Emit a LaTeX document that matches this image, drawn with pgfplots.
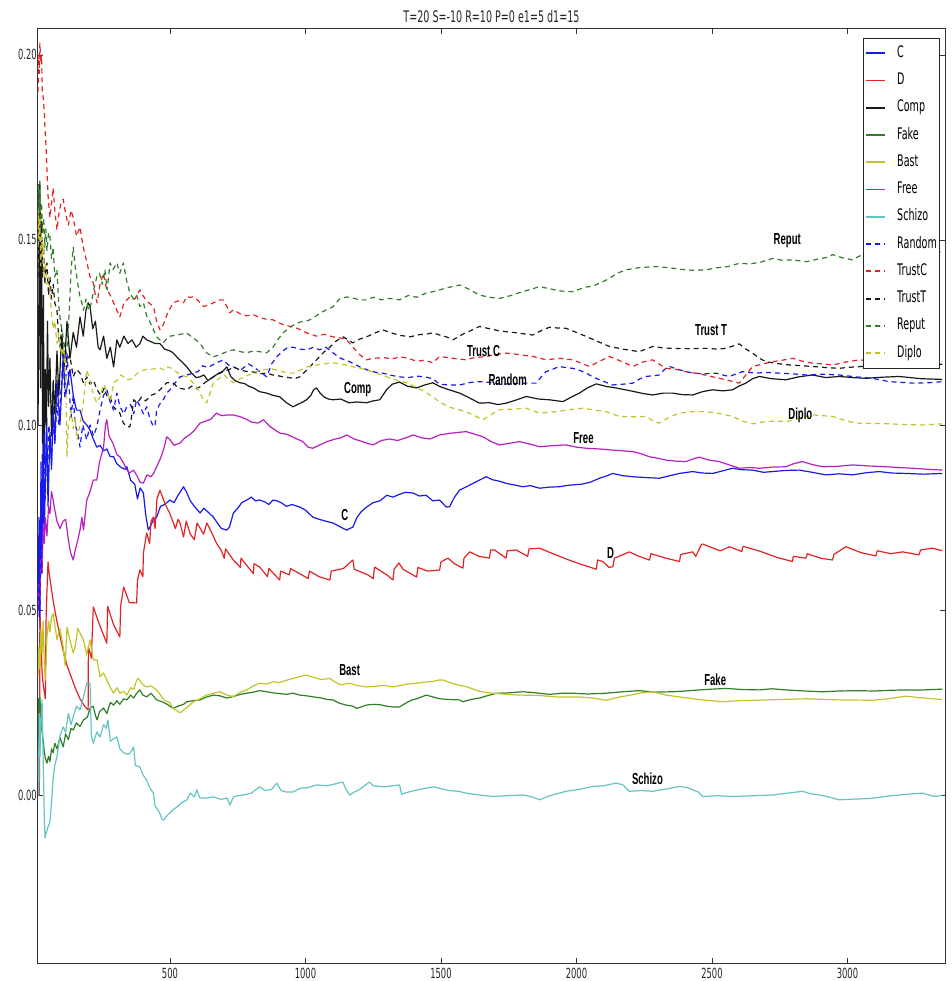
\documentclass[border=0pt]{standalone}
\usepackage{fontspec}
\setmainfont{DejaVu Sans}[FakeStretch=0.6]
\newfontfamily\lblfont{Liberation Sans}[FakeStretch=0.6]
\usepackage{pgfplots}
\pgfplotsset{compat=1.18}

\definecolor{cB}{RGB}{25,25,235}
\definecolor{cR}{RGB}{225,35,35}
\definecolor{cK}{RGB}{25,25,25}
\definecolor{cG}{RGB}{50,125,40}
\definecolor{cY}{RGB}{195,195,40}
\definecolor{cM}{RGB}{185,30,190}
\definecolor{cC}{RGB}{100,195,195}

\tikzset{dsh/.style={dash pattern=on 5bp off 4bp}}
\newcommand{\lbl}[3]{\node[font=\lblfont\bfseries\fontsize{16}{16}\selectfont, text=black] at (axis cs:#1,#2) {#3};}

\begin{document}
\begin{tikzpicture}
\begin{axis}[
  scale only axis,
  width=907bp, height=934bp,
  xmin=13, xmax=3360, ymin=-0.0454, ymax=0.207,
  xtick={500,1000,1500,2000,2500,3000},
  ytick={0,0.05,0.1,0.15,0.2},
  scaled ticks=false,
  /pgf/number format/assume math mode=true,
  /pgf/number format/1000 sep={},
  tick label style={font=\fontsize{14}{14}\selectfont, text=black!85},
  yticklabel style={inner xsep=1bp, /pgf/number format/fixed, /pgf/number format/fixed zerofill, /pgf/number format/precision=2},
  xticklabel style={inner ysep=5bp},
  tick align=inside,
  xtick pos=both, ytick pos=both,
  major tick length=5bp,
  tick style={black!80, line width=0.6bp},
  axis line style={black!80, line width=1bp},
  title={T=20 S=-10 R=10 P=0 e1=5 d1=15},
  every axis title/.style={at={(0.5,1)}, anchor=base, yshift=6.5bp, inner sep=0bp, font=\fontsize{16}{16}\selectfont, text=black!85},
  every axis plot/.append style={line width=1.2bp, line join=round},
  legend cell align=left,
  legend image code/.code={\draw[#1, line width=1.8bp] (0bp,0bp) -- (19bp,0bp);},
  legend style={at={(1,1)}, anchor=north east, xshift=-6bp, yshift=-9bp,
    draw=black!85, fill=white,
    font=\fontsize{16}{16}\selectfont,
    inner xsep=2bp, inner ysep=8bp,
    nodes={inner sep=0bp, text height=11bp, text depth=3bp},
    row sep=13.27bp, column sep=11bp},
]

% C
\addplot[cB] coordinates {
(13,0.052) (17,0.075) (20,0.045) (24,0.09) (28,0.06) (32,0.098) (36,0.07) (40,0.085) (45,0.102) (50,0.078) (57,0.098) (63,0.088) (69,0.105) (75,0.095) (83,0.112) (94,0.1) (106,0.118) (115,0.108) (131,0.115) (143,0.108) (155,0.104) (168,0.104) (180,0.101) (193,0.1) (205,0.0986) (218,0.096) (230,0.094) (242,0.0945) (255,0.093) (267,0.0935) (279,0.0915) (292,0.0914) (304,0.0895) (320,0.0885) (335,0.088) (341,0.0887) (355,0.085) (370,0.084) (380,0.08) (390,0.083) (402,0.0816) (410,0.076) (420,0.0716) (430,0.073) (440,0.0745) (451,0.0751) (465,0.078) (480,0.0785) (500,0.0797) (515,0.079) (530,0.081) (550,0.0833) (560,0.082) (575,0.0795) (590,0.078) (611,0.0762) (625,0.0775) (640,0.0765) (660,0.0751) (675,0.0735) (690,0.072) (710,0.0716) (720,0.0725) (734,0.0762) (750,0.0775) (765,0.079) (783,0.0797) (800,0.0805) (815,0.0795) (831,0.0797) (850,0.0792) (865,0.0785) (880,0.0797) (895,0.0795) (910,0.079) (930,0.078) (950,0.0785) (979,0.0778) (1000,0.077) (1027,0.0751) (1050,0.0745) (1075,0.074) (1101,0.0735) (1120,0.0728) (1140,0.072) (1152,0.0716) (1163,0.072) (1175,0.0724) (1190,0.075) (1205,0.0765) (1225,0.0778) (1250,0.079) (1275,0.0795) (1300,0.081) (1323,0.0805) (1345,0.0812) (1370,0.0818) (1397,0.0816) (1420,0.0808) (1445,0.081) (1470,0.0795) (1495,0.0797) (1520,0.0778) (1532,0.0779) (1550,0.0805) (1569,0.0824) (1594,0.0833) (1618,0.0842) (1642,0.0851) (1667,0.086) (1690,0.0852) (1716,0.0848) (1741,0.0842) (1770,0.0838) (1802,0.0833) (1830,0.0836) (1864,0.0829) (1900,0.0832) (1937,0.0833) (1960,0.0836) (1986,0.0838) (2020,0.084) (2050,0.0845) (2085,0.0856) (2110,0.0862) (2134,0.0869) (2170,0.0863) (2208,0.086) (2250,0.0858) (2306,0.0856) (2340,0.0862) (2380,0.0869) (2429,0.0874) (2465,0.087) (2503,0.0869) (2540,0.0876) (2576,0.0883) (2610,0.0879) (2650,0.0878) (2690,0.0872) (2724,0.0874) (2770,0.0877) (2822,0.0878) (2870,0.0872) (2920,0.0865) (2970,0.0868) (3019,0.0865) (3070,0.0871) (3117,0.0874) (3165,0.087) (3215,0.0869) (3280,0.0867) (3350,0.0869)
};
\addlegendentry{C}

% D
\addplot[cR] coordinates {
(13,0.0) (18,0.0) (20,0.048) (24,0.042) (28,0.033) (32,0.03) (36,0.028) (40,0.026) (43,0.048) (46,0.055) (50,0.063) (54,0.06) (60,0.057) (70,0.052) (80,0.048) (94,0.043) (106,0.039) (120,0.035) (135,0.032) (150,0.029) (168,0.026) (185,0.024) (198,0.023) (199,0.040) (210,0.037) (217,0.0508) (240,0.046) (267,0.041) (270,0.051) (292,0.046) (315,0.0427) (318,0.051) (329,0.0562) (350,0.052) (377,0.0519) (380,0.058) (389,0.0608) (400,0.059) (402,0.0654) (414,0.0708) (425,0.068) (430,0.074) (439,0.0751) (445,0.072) (452,0.08) (463,0.0824) (480,0.079) (500,0.076) (520,0.072) (530,0.0745) (537,0.0735) (550,0.0697) (560,0.074) (575,0.0705) (590,0.069) (600,0.0735) (624,0.0705) (636,0.0735) (650,0.0715) (672,0.068) (690,0.066) (700,0.064) (705,0.0665) (734,0.0635) (760,0.0615) (762,0.064) (808,0.0598) (810,0.0625) (831,0.0616) (860,0.059) (865,0.0612) (905,0.0581) (908,0.0605) (940,0.0595) (945,0.0612) (979,0.0598) (1010,0.0585) (1015,0.0605) (1050,0.059) (1090,0.0581) (1095,0.0605) (1140,0.0612) (1175,0.0635) (1180,0.061) (1230,0.0595) (1250,0.0585) (1255,0.0616) (1300,0.0595) (1323,0.0581) (1327,0.061) (1345,0.0627) (1360,0.061) (1410,0.0589) (1415,0.0615) (1450,0.0605) (1495,0.0608) (1500,0.063) (1526,0.064) (1550,0.0625) (1581,0.0613) (1585,0.064) (1606,0.0657) (1640,0.0645) (1679,0.064) (1683,0.0662) (1698,0.0662) (1740,0.064) (1745,0.066) (1778,0.0662) (1820,0.0645) (1825,0.0665) (1864,0.0667) (1920,0.065) (1986,0.0631) (2040,0.0618) (2073,0.061) (2078,0.0635) (2097,0.0631) (2120,0.0615) (2134,0.0617) (2140,0.064) (2195,0.0657) (2230,0.0645) (2269,0.0635) (2275,0.0652) (2330,0.064) (2380,0.0631) (2385,0.065) (2429,0.0657) (2440,0.0645) (2462,0.0678) (2466,0.0678) (2530,0.066) (2539,0.0662) (2564,0.0671) (2610,0.0658) (2615,0.0672) (2680,0.0658) (2740,0.0642) (2797,0.0631) (2800,0.0645) (2847,0.064) (2852,0.0652) (2900,0.064) (2945,0.0635) (2950,0.065) (2994,0.0671) (3050,0.0655) (3105,0.0646) (3110,0.066) (3160,0.0652) (3203,0.0657) (3264,0.0649) (3270,0.0662) (3313,0.0667) (3350,0.066)
};
\addlegendentry{D}

% Comp
\addplot[cK] coordinates {
(13,0.10) (16,0.13) (18,0.165) (20,0.14) (22,0.11) (25,0.155) (28,0.125) (30,0.095) (33,0.135) (36,0.09) (40,0.115) (44,0.1) (48,0.128) (52,0.105) (57,0.118) (63,0.097) (69,0.112) (75,0.103) (83,0.12) (90,0.108) (100,0.124) (110,0.115) (120,0.128) (131,0.118) (143,0.125) (155,0.121) (168,0.1292) (180,0.124) (190,0.131) (198,0.133) (205,0.132) (215,0.126) (225,0.128) (235,0.121) (242,0.1203) (255,0.124) (267,0.118) (280,0.121) (292,0.1157) (304,0.123) (315,0.121) (330,0.124) (345,0.122) (360,0.123) (375,0.121) (389,0.122) (400,0.124) (414,0.123) (430,0.1225) (445,0.122) (463,0.122) (480,0.1205) (500,0.12) (511,0.1195) (530,0.118) (545,0.117) (562,0.1157) (580,0.114) (596,0.1128) (611,0.113) (625,0.1135) (640,0.112) (660,0.113) (680,0.114) (695,0.1145) (710,0.1157) (725,0.113) (740,0.112) (758,0.1114) (775,0.1112) (790,0.1105) (808,0.11) (830,0.109) (857,0.1086) (880,0.108) (905,0.1076) (930,0.106) (954,0.1049) (970,0.1055) (990,0.1062) (1004,0.1068) (1020,0.108) (1030,0.1095) (1041,0.11) (1055,0.1085) (1070,0.1075) (1085,0.107) (1101,0.1068) (1130,0.107) (1160,0.106) (1190,0.1062) (1225,0.106) (1250,0.1065) (1274,0.1068) (1290,0.1085) (1299,0.1095) (1320,0.111) (1347,0.1116) (1375,0.1105) (1410,0.11) (1440,0.1108) (1470,0.1114) (1495,0.1104) (1530,0.1095) (1569,0.1086) (1600,0.1075) (1642,0.1059) (1680,0.106) (1710,0.1055) (1741,0.1059) (1780,0.1068) (1815,0.1077) (1860,0.107) (1900,0.1068) (1950,0.1063) (1980,0.1075) (2011,0.1086) (2040,0.11) (2073,0.1111) (2110,0.1104) (2146,0.11) (2180,0.1095) (2208,0.1091) (2245,0.1085) (2281,0.1081) (2320,0.1086) (2355,0.1086) (2390,0.1082) (2429,0.1081) (2465,0.109) (2503,0.1095) (2540,0.1092) (2576,0.1095) (2600,0.1105) (2625,0.1113) (2650,0.1125) (2675,0.1131) (2720,0.1125) (2773,0.1122) (2820,0.113) (2871,0.1135) (2920,0.1128) (2969,0.1131) (3020,0.1128) (3068,0.1126) (3130,0.1129) (3191,0.1131) (3270,0.1125) (3350,0.1123)
};
\addlegendentry{Comp}

% Fake
\addplot[cG] coordinates {
(13,0.012) (16,0.026) (20,0.0265) (24,0.02) (28,0.017) (32,0.0149) (36,0.012) (40,0.01) (46,0.0086) (52,0.0105) (57,0.009) (63,0.0125) (69,0.0114) (75,0.014) (83,0.0125) (94,0.0155) (106,0.013) (115,0.0165) (125,0.015) (135,0.018) (143,0.0176) (155,0.0195) (168,0.0185) (181,0.0203) (195,0.021) (205,0.0235) (217,0.024) (225,0.0215) (231,0.0203) (240,0.0225) (255,0.0235) (267,0.022) (280,0.025) (292,0.0243) (304,0.0255) (315,0.0245) (329,0.026) (341,0.0257) (355,0.027) (366,0.0262) (377,0.0275) (389,0.0284) (400,0.027) (414,0.0265) (430,0.0275) (451,0.0257) (470,0.0252) (490,0.0245) (511,0.0234) (530,0.024) (550,0.0245) (562,0.0252) (587,0.0255) (611,0.0257) (636,0.0265) (660,0.027) (684,0.0268) (710,0.0262) (734,0.0266) (760,0.0272) (783,0.0275) (808,0.0278) (831,0.0282) (857,0.0279) (880,0.0276) (905,0.0274) (930,0.0272) (954,0.0275) (979,0.027) (1004,0.0268) (1030,0.0265) (1060,0.0262) (1080,0.0258) (1101,0.0257) (1125,0.0248) (1150,0.0243) (1175,0.024) (1189,0.0234) (1205,0.0238) (1225,0.0243) (1250,0.0245) (1275,0.0244) (1300,0.024) (1323,0.0238) (1347,0.0238) (1370,0.0248) (1390,0.0256) (1410,0.026) (1446,0.027) (1470,0.0265) (1495,0.026) (1530,0.0258) (1569,0.0257) (1581,0.0252) (1610,0.0258) (1642,0.0262) (1670,0.0268) (1704,0.0275) (1750,0.0276) (1802,0.0279) (1850,0.0276) (1900,0.0272) (1950,0.0275) (1986,0.0275) (2040,0.0273) (2109,0.0275) (2170,0.0279) (2232,0.0282) (2290,0.0278) (2355,0.0279) (2400,0.0281) (2453,0.0284) (2500,0.0286) (2552,0.0288) (2610,0.0285) (2675,0.0284) (2720,0.0287) (2773,0.0284) (2840,0.0281) (2908,0.0279) (2970,0.0281) (3031,0.0282) (3100,0.0281) (3160,0.0283) (3215,0.0284) (3280,0.0284) (3350,0.0286)
};
\addlegendentry{Fake}

% Bast
\addplot[cY] coordinates {
(13,0.032) (16,0.04) (20,0.034) (24,0.045) (28,0.038) (32,0.047) (36,0.036) (40,0.031) (46,0.0427) (52,0.047) (57,0.044) (63,0.048) (69,0.049) (75,0.046) (83,0.042) (94,0.045) (106,0.04) (113,0.035) (120,0.0454) (130,0.042) (143,0.0384) (150,0.04) (160,0.045) (168,0.0438) (180,0.042) (193,0.038) (205,0.0419) (217,0.0365) (231,0.0365) (242,0.0319) (255,0.033) (267,0.031) (280,0.029) (292,0.0275) (304,0.029) (315,0.0275) (329,0.028) (341,0.027) (355,0.029) (366,0.0285) (377,0.031) (383,0.0315) (400,0.0298) (414,0.0292) (430,0.0295) (451,0.0284) (465,0.027) (480,0.0255) (500,0.0249) (511,0.0234) (525,0.0228) (537,0.0222) (543,0.0225) (560,0.0235) (587,0.0252) (611,0.026) (635,0.027) (660,0.0275) (684,0.0279) (710,0.027) (734,0.0266) (760,0.0278) (783,0.0284) (808,0.0295) (831,0.0302) (857,0.03) (880,0.0306) (905,0.0304) (930,0.031) (954,0.0315) (979,0.032) (1004,0.0324) (1030,0.0318) (1060,0.0312) (1090,0.0315) (1110,0.0305) (1130,0.0298) (1163,0.0302) (1190,0.0296) (1225,0.0292) (1260,0.0294) (1290,0.0296) (1323,0.0292) (1350,0.0296) (1380,0.03) (1410,0.0302) (1440,0.0305) (1470,0.0307) (1495,0.0311) (1507,0.0311) (1540,0.0302) (1570,0.0296) (1593,0.0293) (1642,0.028) (1692,0.0275) (1740,0.0272) (1790,0.027) (1860,0.0269) (1925,0.0265) (2011,0.0265) (2060,0.0262) (2109,0.0256) (2160,0.0265) (2200,0.027) (2240,0.0276) (2281,0.0279) (2330,0.027) (2380,0.0265) (2450,0.0258) (2539,0.0252) (2600,0.0255) (2662,0.0256) (2750,0.0258) (2847,0.026) (2970,0.0257) (3092,0.0256) (3150,0.026) (3215,0.0267) (3280,0.0262) (3350,0.0258)
};
\addlegendentry{Bast}

% Free
\addplot[cM] coordinates {
(13,0.048) (16,0.058) (20,0.052) (24,0.065) (28,0.06) (32,0.072) (36,0.068) (40,0.075) (46,0.07) (52,0.078) (57,0.076) (63,0.082) (69,0.0797) (75,0.077) (83,0.074) (94,0.072) (106,0.074) (115,0.0745) (125,0.069) (133,0.0655) (143,0.0635) (150,0.066) (160,0.069) (168,0.0716) (175,0.075) (181,0.0716) (193,0.0797) (205,0.082) (217,0.0851) (230,0.0851) (240,0.09) (255,0.094) (262,0.1) (267,0.1014) (275,0.097) (290,0.095) (304,0.092) (315,0.0914) (330,0.0895) (340,0.088) (350,0.087) (366,0.0878) (380,0.086) (390,0.0845) (402,0.0843) (415,0.0865) (430,0.086) (440,0.087) (451,0.0887) (465,0.091) (477,0.0935) (488,0.0968) (500,0.096) (515,0.0945) (537,0.0951) (555,0.0965) (575,0.0975) (590,0.0985) (611,0.1005) (630,0.101) (650,0.1015) (672,0.1032) (690,0.1025) (710,0.1027) (734,0.1027) (760,0.1022) (783,0.1015) (800,0.1008) (825,0.1005) (845,0.1014) (870,0.0995) (905,0.0978) (930,0.0975) (960,0.0965) (990,0.0955) (1010,0.094) (1027,0.0937) (1050,0.0945) (1080,0.0955) (1110,0.0962) (1130,0.0965) (1152,0.0973) (1180,0.0962) (1210,0.0955) (1230,0.095) (1250,0.0946) (1280,0.0958) (1310,0.0962) (1340,0.0958) (1370,0.0965) (1397,0.0973) (1430,0.0965) (1460,0.0962) (1495,0.0973) (1540,0.0978) (1593,0.0982) (1625,0.0975) (1655,0.0968) (1685,0.0955) (1716,0.0946) (1750,0.095) (1790,0.0955) (1830,0.0948) (1864,0.0941) (1910,0.0944) (1962,0.0946) (2000,0.094) (2036,0.0937) (2085,0.0935) (2134,0.0932) (2170,0.093) (2208,0.0928) (2240,0.0922) (2269,0.0914) (2300,0.091) (2330,0.0905) (2370,0.0902) (2404,0.0901) (2430,0.0908) (2453,0.0913) (2490,0.0905) (2527,0.0901) (2560,0.0893) (2601,0.0883) (2640,0.0885) (2675,0.0883) (2720,0.0886) (2773,0.0887) (2800,0.0895) (2834,0.0901) (2870,0.0893) (2908,0.0887) (2960,0.0888) (3019,0.0892) (3080,0.0889) (3141,0.0887) (3190,0.0885) (3240,0.0883) (3300,0.088) (3350,0.0878)
};
\addlegendentry{Free}

% Schizo
\addplot[cC] coordinates {
(13,0.012) (16,0.0) (18,0.022) (20,0.0103) (24,0.02) (28,0.0257) (32,0.01) (36,-0.005) (39,-0.0116) (44,-0.01) (50,-0.0087) (57,-0.0073) (63,-0.002) (69,0.0049) (75,0.008) (83,0.0103) (94,0.016) (106,0.0184) (115,0.017) (125,0.022) (135,0.019) (143,0.0211) (155,0.024) (168,0.023) (181,0.0265) (193,0.0303) (200,0.03) (205,0.0303) (210,0.016) (217,0.014) (230,0.017) (242,0.0157) (255,0.019) (265,0.018) (271,0.0203) (280,0.0145) (292,0.0152) (304,0.0157) (315,0.0125) (329,0.0114) (345,0.011) (355,0.0115) (366,0.013) (372,0.008) (389,0.0076) (400,0.0055) (414,0.004) (425,0.002) (439,0.0005) (445,-0.003) (460,-0.0045) (470,-0.0065) (476,-0.0068) (490,-0.0055) (511,-0.004) (530,-0.003) (545,-0.002) (562,-0.0014) (575,0.0005) (590,-0.0005) (599,0.0014) (610,-0.0008) (636,-0.0008) (660,-0.0005) (690,-0.0012) (710,-0.0008) (721,-0.0027) (735,-0.0005) (750,-0.0002) (770,0.0) (800,0.0005) (831,0.0022) (850,0.0012) (875,0.0015) (894,0.0032) (910,0.0012) (930,0.0008) (954,0.0008) (980,0.0018) (1010,0.002) (1041,0.0027) (1080,0.0025) (1110,0.003) (1138,0.0035) (1150,0.0015) (1163,0.0) (1180,0.0008) (1200,0.0015) (1236,0.0035) (1250,0.0025) (1290,0.0022) (1320,0.0025) (1347,0.0027) (1355,0.0002) (1380,0.0008) (1420,0.0015) (1470,0.0022) (1495,0.0018) (1530,0.0012) (1565,0.001) (1593,0.0005) (1620,0.0002) (1642,0.0) (1692,-0.0004) (1740,-0.0002) (1802,0.0) (1835,-0.0005) (1864,-0.0013) (1900,-0.0002) (1962,0.001) (2010,0.0015) (2060,0.0023) (2100,0.0025) (2146,0.0032) (2170,0.0028) (2195,0.001) (2240,0.0012) (2281,0.001) (2330,0.0016) (2380,0.0023) (2410,0.002) (2429,0.0014) (2450,0.0008) (2466,-0.0004) (2520,-0.0002) (2576,-0.0004) (2650,-0.0002) (2724,0.0) (2790,0.0006) (2834,0.001) (2860,0.0004) (2896,0.0) (2930,-0.0005) (2969,-0.0013) (3030,-0.0011) (3092,-0.0009) (3150,-0.0003) (3220,0.0002) (3277,0.0005) (3300,0.0) (3326,-0.0004) (3350,0.0)
};
\addlegendentry{Schizo}

% Random
\addplot[cB, dsh] coordinates {
(13,0.05) (16,0.07) (18,0.055) (20,0.05) (23,0.078) (26,0.06) (29,0.092) (32,0.075) (36,0.098) (40,0.08) (44,0.095) (48,0.085) (52,0.1) (57,0.098) (63,0.09) (69,0.103) (75,0.095) (83,0.106) (90,0.1) (100,0.112) (106,0.1195) (112,0.107) (120,0.1195) (128,0.11) (135,0.102) (143,0.108) (150,0.1) (160,0.098) (168,0.094) (178,0.1) (193,0.096) (205,0.1) (218,0.097) (230,0.0995) (242,0.104) (255,0.108) (267,0.1095) (280,0.106) (292,0.104) (304,0.1086) (315,0.105) (330,0.103) (341,0.105) (355,0.1055) (366,0.103) (377,0.1068) (390,0.105) (402,0.103) (414,0.1049) (425,0.102) (433,0.1005) (439,0.0995) (445,0.1) (451,0.104) (465,0.106) (477,0.107) (488,0.1086) (500,0.1095) (515,0.111) (537,0.113) (562,0.1135) (587,0.114) (605,0.1145) (620,0.116) (640,0.1155) (672,0.1168) (695,0.1175) (720,0.116) (734,0.1157) (760,0.1148) (790,0.1165) (808,0.1157) (830,0.1145) (857,0.113) (875,0.1165) (895,0.1185) (917,0.12) (935,0.121) (954,0.121) (980,0.1205) (1004,0.1203) (1030,0.121) (1052,0.1203) (1075,0.121) (1101,0.1195) (1130,0.118) (1160,0.1172) (1200,0.1157) (1230,0.1148) (1260,0.1142) (1285,0.114) (1310,0.1135) (1347,0.113) (1380,0.1128) (1410,0.1132) (1440,0.113) (1470,0.1125) (1495,0.111) (1530,0.1108) (1569,0.1108) (1610,0.1115) (1642,0.1117) (1680,0.1115) (1720,0.111) (1770,0.1112) (1815,0.1113) (1851,0.1113) (1870,0.113) (1888,0.1144) (1910,0.115) (1937,0.1158) (1960,0.1155) (1986,0.1153) (2010,0.1148) (2036,0.114) (2060,0.113) (2085,0.1122) (2110,0.1115) (2134,0.1108) (2170,0.111) (2208,0.1113) (2235,0.1125) (2257,0.1131) (2306,0.1135) (2325,0.115) (2343,0.1158) (2385,0.1148) (2429,0.114) (2470,0.1138) (2515,0.114) (2540,0.1135) (2564,0.1131) (2590,0.1138) (2613,0.1144) (2662,0.114) (2700,0.1142) (2748,0.114) (2800,0.1138) (2847,0.1135) (2910,0.1137) (2969,0.1135) (3030,0.113) (3092,0.1126) (3154,0.1117) (3200,0.1115) (3240,0.1113) (3300,0.1114) (3350,0.1117)
};
\addlegendentry{Random}

% TrustC
\addplot[cR, dsh] coordinates {
(13,0.19) (16,0.2) (18,0.195) (20,0.2032) (23,0.198) (26,0.2) (29,0.19) (32,0.1886) (36,0.185) (39,0.1797) (43,0.175) (46,0.169) (50,0.162) (57,0.156) (63,0.16) (69,0.164) (75,0.158) (83,0.1527) (90,0.157) (98,0.16) (106,0.161) (115,0.157) (125,0.154) (135,0.158) (143,0.156) (155,0.151) (168,0.1535) (180,0.148) (194,0.1438) (205,0.14) (217,0.1384) (225,0.135) (231,0.133) (242,0.138) (254,0.141) (265,0.137) (280,0.135) (292,0.133) (304,0.131) (315,0.1292) (330,0.133) (352,0.1346) (370,0.134) (389,0.1365) (400,0.135) (414,0.1335) (439,0.132) (451,0.128) (463,0.1257) (475,0.127) (490,0.13) (511,0.133) (530,0.1335) (550,0.133) (561,0.1346) (575,0.1345) (587,0.1346) (605,0.1335) (624,0.132) (645,0.1325) (660,0.133) (684,0.1338) (696,0.1338) (710,0.132) (721,0.1303) (734,0.1311) (760,0.13) (783,0.1295) (808,0.1298) (831,0.129) (855,0.1286) (880,0.1284) (905,0.1275) (930,0.1268) (954,0.1265) (980,0.1258) (1004,0.1249) (1040,0.124) (1070,0.1245) (1101,0.1238) (1130,0.1235) (1152,0.123) (1175,0.121) (1200,0.119) (1225,0.1176) (1250,0.118) (1290,0.1182) (1320,0.1178) (1347,0.1184) (1380,0.118) (1410,0.1172) (1440,0.1175) (1470,0.1168) (1495,0.1185) (1545,0.118) (1593,0.1176) (1617,0.1181) (1667,0.1185) (1700,0.119) (1741,0.1194) (1790,0.119) (1839,0.1185) (1888,0.1176) (1940,0.118) (1986,0.1176) (2048,0.1158) (2085,0.1172) (2122,0.1185) (2165,0.1172) (2208,0.1158) (2245,0.117) (2281,0.1176) (2330,0.1153) (2370,0.115) (2404,0.1144) (2455,0.1138) (2503,0.113) (2552,0.1122) (2601,0.1113) (2625,0.1135) (2650,0.1158) (2690,0.1165) (2724,0.1171) (2760,0.1175) (2798,0.118) (2835,0.1172) (2871,0.1167) (2910,0.1165) (2945,0.1162) (2995,0.117) (3043,0.1176) (3100,0.1172) (3160,0.1175) (3220,0.117) (3290,0.1174) (3350,0.1172)
};
\addlegendentry{TrustC}

% TrustT
\addplot[cK, dsh] coordinates {
(13,0.14) (16,0.162) (18,0.15) (20,0.166) (23,0.145) (26,0.155) (30,0.14) (34,0.148) (38,0.138) (42,0.142) (46,0.1438) (52,0.135) (57,0.14) (63,0.134) (69,0.138) (75,0.133) (83,0.131) (88,0.125) (94,0.121) (100,0.126) (106,0.119) (113,0.122) (120,0.1168) (130,0.119) (143,0.113) (155,0.115) (168,0.114) (181,0.1113) (193,0.113) (205,0.111) (218,0.112) (231,0.1095) (245,0.108) (258,0.11) (268,0.1076) (279,0.1076) (290,0.105) (304,0.104) (315,0.1032) (328,0.1005) (341,0.0995) (352,0.0995) (360,0.103) (366,0.1068) (380,0.106) (395,0.1075) (410,0.1065) (430,0.108) (451,0.1086) (470,0.11) (488,0.1114) (511,0.1114) (530,0.11) (545,0.1098) (562,0.1095) (580,0.1105) (596,0.1098) (611,0.1103) (630,0.1115) (645,0.1122) (660,0.113) (680,0.1138) (700,0.1145) (720,0.115) (734,0.1157) (760,0.1148) (780,0.1145) (808,0.1143) (830,0.1138) (857,0.114) (880,0.1135) (905,0.1132) (917,0.113) (940,0.1128) (960,0.1125) (979,0.113) (1000,0.1145) (1020,0.116) (1041,0.1176) (1065,0.1195) (1090,0.121) (1110,0.1225) (1125,0.1232) (1140,0.1238) (1160,0.1228) (1175,0.1222) (1200,0.1232) (1225,0.1238) (1255,0.1248) (1285,0.1257) (1320,0.1248) (1350,0.1242) (1386,0.1238) (1420,0.1244) (1450,0.1246) (1470,0.1249) (1495,0.1243) (1520,0.1238) (1544,0.123) (1580,0.1245) (1610,0.1255) (1642,0.1266) (1680,0.126) (1710,0.1255) (1741,0.1252) (1790,0.1248) (1839,0.1243) (1870,0.1255) (1900,0.1264) (1930,0.1262) (1962,0.1261) (2000,0.125) (2036,0.1239) (2080,0.1225) (2122,0.1212) (2170,0.1205) (2232,0.1198) (2260,0.1206) (2281,0.1212) (2320,0.1208) (2355,0.1207) (2420,0.1206) (2478,0.1207) (2520,0.1205) (2552,0.1207) (2580,0.1214) (2601,0.1219) (2625,0.1205) (2650,0.1194) (2675,0.118) (2699,0.1171) (2740,0.1166) (2786,0.1162) (2830,0.116) (2871,0.1158) (2920,0.1155) (2969,0.1153) (3010,0.1156) (3055,0.1158) (3110,0.1162) (3170,0.1165) (3230,0.1163) (3290,0.1166) (3350,0.1164)
};
\addlegendentry{TrustT}

% Reput
\addplot[cG, dsh] coordinates {
(13,0.155) (16,0.165) (18,0.158) (20,0.1635) (23,0.155) (26,0.16) (30,0.152) (34,0.156) (38,0.148) (42,0.153) (46,0.147) (52,0.152) (57,0.151) (63,0.145) (69,0.148) (75,0.14) (83,0.142) (90,0.132) (96,0.128) (103,0.125) (110,0.121) (120,0.121) (128,0.13) (135,0.142) (143,0.148) (150,0.143) (160,0.138) (168,0.1346) (175,0.133) (181,0.131) (190,0.134) (200,0.131) (210,0.133) (220,0.137) (230,0.14) (240,0.141) (250,0.138) (260,0.142) (268,0.1365) (279,0.1438) (290,0.142) (304,0.1438) (315,0.141) (328,0.1438) (340,0.139) (352,0.1357) (365,0.134) (377,0.135) (389,0.132) (402,0.133) (414,0.1295) (425,0.128) (439,0.1257) (451,0.1238) (463,0.123) (475,0.1222) (490,0.1235) (500,0.124) (520,0.1242) (540,0.1245) (561,0.1249) (580,0.1238) (595,0.123) (611,0.122) (635,0.1195) (660,0.1184) (684,0.119) (710,0.1198) (734,0.1203) (760,0.1198) (783,0.1195) (808,0.12) (830,0.1198) (857,0.1195) (880,0.121) (900,0.1232) (917,0.1249) (940,0.1262) (960,0.1272) (980,0.1278) (1000,0.128) (1016,0.1284) (1040,0.1295) (1060,0.1305) (1080,0.1312) (1101,0.1319) (1125,0.134) (1152,0.1346) (1180,0.1342) (1200,0.1338) (1225,0.1338) (1250,0.1345) (1280,0.1338) (1310,0.1342) (1347,0.1338) (1380,0.135) (1410,0.1345) (1447,0.1357) (1470,0.136) (1495,0.1365) (1530,0.1372) (1569,0.1378) (1600,0.1368) (1642,0.1351) (1680,0.1345) (1716,0.1342) (1760,0.135) (1800,0.136) (1840,0.1368) (1864,0.1374) (1900,0.1368) (1940,0.1362) (1986,0.136) (2030,0.1372) (2060,0.1375) (2085,0.1383) (2120,0.1395) (2150,0.141) (2183,0.1419) (2230,0.1425) (2294,0.1428) (2340,0.1425) (2390,0.142) (2430,0.1418) (2478,0.1419) (2520,0.1425) (2560,0.1428) (2601,0.1437) (2640,0.1435) (2680,0.144) (2724,0.145) (2760,0.1445) (2800,0.1446) (2847,0.1441) (2890,0.1448) (2920,0.1452) (2945,0.146) (2980,0.1452) (3019,0.1446) (3040,0.1455) (3068,0.1464) (3110,0.1462) (3160,0.1468) (3210,0.1465) (3260,0.147) (3310,0.1466) (3350,0.1468)
};
\addlegendentry{Reput}

% Diplo
\addplot[cY, dsh] coordinates {
(13,0.148) (16,0.158) (18,0.15) (20,0.156) (23,0.143) (26,0.152) (29,0.145) (32,0.149) (36,0.14) (40,0.144) (46,0.138) (52,0.14) (57,0.1365) (63,0.13) (69,0.126) (75,0.128) (83,0.122) (90,0.125) (98,0.119) (106,0.121) (115,0.113) (120,0.0914) (125,0.1) (135,0.104) (143,0.099) (150,0.102) (157,0.096) (168,0.1) (180,0.106) (193,0.1149) (205,0.112) (218,0.108) (230,0.106) (242,0.1076) (255,0.111) (268,0.109) (280,0.1065) (292,0.1114) (304,0.112) (320,0.1135) (341,0.1122) (360,0.1125) (380,0.114) (400,0.1148) (420,0.115) (439,0.1151) (460,0.1155) (476,0.1149) (488,0.1157) (500,0.1155) (520,0.1145) (540,0.1135) (562,0.113) (580,0.1118) (600,0.11) (615,0.108) (625,0.1065) (636,0.106) (645,0.108) (660,0.1114) (680,0.1125) (700,0.1135) (720,0.112) (734,0.1114) (760,0.1125) (790,0.1135) (820,0.1145) (850,0.115) (880,0.1151) (910,0.1145) (935,0.114) (954,0.114) (980,0.1148) (1010,0.1158) (1040,0.1162) (1070,0.1165) (1101,0.1168) (1130,0.1165) (1160,0.116) (1190,0.1155) (1225,0.1149) (1260,0.114) (1300,0.113) (1340,0.112) (1373,0.1114) (1400,0.1105) (1440,0.109) (1470,0.1076) (1495,0.1062) (1530,0.1048) (1569,0.1041) (1610,0.103) (1655,0.1014) (1685,0.1028) (1716,0.1041) (1770,0.1043) (1815,0.1045) (1864,0.1032) (1925,0.1036) (1980,0.1042) (2023,0.1045) (2070,0.104) (2109,0.1036) (2158,0.1023) (2210,0.1022) (2257,0.1023) (2285,0.101) (2306,0.1005) (2340,0.102) (2380,0.1032) (2430,0.1036) (2478,0.1036) (2520,0.1032) (2576,0.1023) (2615,0.101) (2650,0.1003) (2690,0.1008) (2724,0.101) (2780,0.101) (2830,0.1018) (2871,0.1027) (2910,0.1025) (2945,0.1023) (2990,0.1012) (3031,0.1005) (3090,0.1004) (3154,0.1003) (3220,0.1001) (3277,0.1) (3350,0.1003)
};
\addlegendentry{Diplo}

% series names written beside the curves
\lbl{2778}{0.1497}{Reput}
\lbl{2497}{0.1257}{Trust T}
\lbl{1657}{0.1200}{Trust C}
\lbl{1746}{0.1122}{Random}
\lbl{1193}{0.1095}{Comp}
\lbl{2826}{0.1027}{Diplo}
\lbl{2026}{0.0965}{Free}
\lbl{1145}{0.0757}{C}
\lbl{2126}{0.0654}{D}
\lbl{1163}{0.0338}{Bast}
\lbl{2512}{0.0311}{Fake}
\lbl{2262}{0.0043}{Schizo}
\end{axis}
\pgfresetboundingbox
\path ([shift={(-38bp,-18bp)}]current axis.south west) rectangle ([shift={(7bp,29bp)}]current axis.north east);
\end{tikzpicture}
\end{document}
